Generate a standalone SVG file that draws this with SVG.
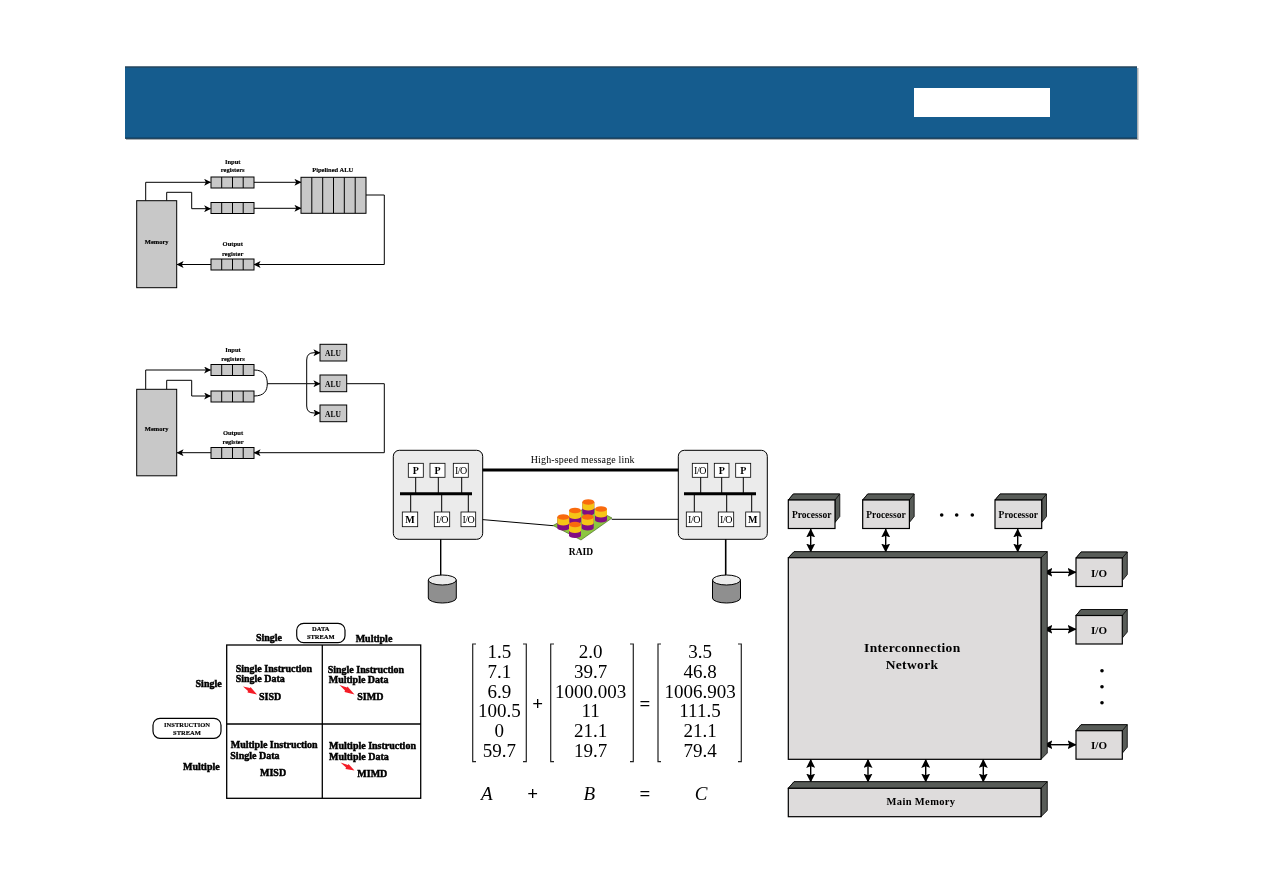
<svg xmlns="http://www.w3.org/2000/svg" xmlns:xlink="http://www.w3.org/1999/xlink" width="1263" height="893" viewBox="0 0 1263 893">
<style>
text{font-family:"Liberation Serif","Times New Roman",serif;fill:#000;text-anchor:middle}
.c{fill:none;stroke:#000;stroke-width:1}
.c2{fill:none;stroke:#000;stroke-width:1.4}
.gr{fill:#c8c8c8;stroke:#000;stroke-width:1}
.s{font-size:6.5px;font-weight:bold;stroke:#000;stroke-width:.15}
.alu{font-size:7.5px;font-weight:bold}
.wb{fill:#fff;stroke:#000;stroke-width:.8}
.pt{font-size:10px;font-weight:bold}
.io{font-size:10px;letter-spacing:-.5px}
.t{font-size:10px;font-weight:bold;stroke:#000;stroke-width:.45;text-anchor:start}
.m{font-size:19px}
.i{font-style:italic;font-size:19px}
.br{fill:none;stroke:#222;stroke-width:1.2}
.front{fill:#dedcdc;stroke:#000;stroke-width:1.2}
.dark{fill:#585c58;stroke:#000;stroke-width:.8}
.b{font-weight:bold}
.red{fill:#f41c28}
.dot{fill:#000}
.o{fill:#f96a10}.y{fill:#f5c518}.p{fill:#820a82}
</style>
<defs>
<marker id="a" viewBox="0 0 8 8" refX="7.5" refY="4" markerWidth="7" markerHeight="7" markerUnits="userSpaceOnUse" orient="auto-start-reverse"><path d="M0 0L8 4L0 8L2 4z" fill="#000"/></marker>
<marker id="d" viewBox="0 0 8 8" refX="7.5" refY="4" markerWidth="9" markerHeight="9" markerUnits="userSpaceOnUse" orient="auto-start-reverse"><path d="M0 0L8 4L0 8L1.5 4z" fill="#000"/></marker>
<g id="reg"><rect class="gr" width="43" height="11"/><path class="c" d="M10.7 0v11M21.5 0v11M32.2 0v11"/></g>
<g id="proc"><path class="dark" d="M0 6L5 0H51.5V22.5L46.7 28.5V6z"/><path class="dark" d="M0 6L5 0H51.5L46.7 6z"/><rect class="front" y="6" width="46.7" height="28.5"/></g>
<g id="iob"><path class="dark" d="M0 6L5 0H51.3V22.5L46.3 28.5V6z"/><path class="dark" d="M0 6L5 0H51.3L46.3 6z"/><rect class="front" y="6" width="46.3" height="28.5"/></g>
<g id="disk"><path d="M0 6V24A14 5 0 0 0 28 24V6z" fill="#8f8f8f" stroke="#000"/><ellipse cx="14" cy="6" rx="14" ry="5" fill="#ececec" stroke="#000"/></g>
<g id="cyl"><path d="M-6 0V11A6 2.6 0 0 0 6 11V0z" class="p"/><path d="M-6 0V6A6 2.6 0 0 0 6 6V0z" class="y"/><ellipse rx="6" ry="2.8" class="o"/></g>
<filter id="soft" x="-2%" y="-2%" width="104%" height="104%"><feGaussianBlur stdDeviation="0.42"/></filter>
</defs>
<rect width="1263" height="893" fill="#fff"/>
<g id="banner">
<rect x="126" y="68" width="1012.5" height="72" fill="#a8aeb2"/>
<rect x="125" y="66.5" width="1012" height="72" fill="#155c8e"/>
<path d="M125 67H1137" stroke="#2c3a44" stroke-width="1.2"/>
<path d="M125 138.2H1137" stroke="#0c2a40" stroke-width="1"/>
<rect x="914" y="88" width="136" height="29" fill="#fff"/>
</g>
<g filter="url(#soft)">
<g id="connectors">
<path class="c" marker-end="url(#a)" d="M145.7 200.7V182.3H210.7"/>
<path class="c" marker-end="url(#a)" d="M166.7 200.7V192.3H191.7V208.7H210.7"/>
<path class="c" marker-end="url(#a)" d="M254 182.3H301"/>
<path class="c" marker-end="url(#a)" d="M254 208.3H301"/>
<path class="c" marker-end="url(#a)" d="M366 195H384.3V264.5H254"/>
<path class="c" marker-end="url(#a)" d="M211 264.5H177"/>
<path class="c" marker-end="url(#a)" d="M145.7 389.3V370H210.7"/>
<path class="c" marker-end="url(#a)" d="M166.7 389.3V380.3H191.7V396H210.7"/>
<path class="c" d="M254 370C264 370 267.3 376 267.3 383.7C267.3 391 264 396 254 396M267.3 383.7H306.7"/>
<path class="c" marker-end="url(#a)" d="M306.7 383.7H320"/>
<path class="c" marker-end="url(#a)" d="M306.7 383.7V360Q306.7 352.7 314 352.7H320"/>
<path class="c" marker-end="url(#a)" d="M306.7 383.7V406Q306.7 413 314 413H320"/>
<path class="c" marker-end="url(#a)" d="M346.7 383.7H384.3V452.7H254"/>
<path class="c" marker-end="url(#a)" d="M211 452.7H177"/>
<path d="M468 470H692.3" stroke="#000" stroke-width="3"/>
<path class="c" d="M475.7 519L553.3 525.7M611.7 519.3H686.3"/>
<path class="c2" d="M440.7 526.7V576"/>
<path d="M725.7 526.7V576" stroke="#000" stroke-width="1.6"/>
<path class="c2" marker-start="url(#d)" marker-end="url(#d)" d="M810.7 529V552"/>
<path class="c2" marker-start="url(#d)" marker-end="url(#d)" d="M885.7 529V552"/>
<path class="c2" marker-start="url(#d)" marker-end="url(#d)" d="M1017.7 529V552"/>
<path class="c2" marker-start="url(#d)" marker-end="url(#d)" d="M1044 572.3H1076"/>
<path class="c2" marker-start="url(#d)" marker-end="url(#d)" d="M1044 629.3H1076"/>
<path class="c2" marker-start="url(#d)" marker-end="url(#d)" d="M1044 744.7H1076"/>
<path class="c2" marker-start="url(#d)" marker-end="url(#d)" d="M810.7 759.5V782"/>
<path class="c2" marker-start="url(#d)" marker-end="url(#d)" d="M868 759.5V782"/>
<path class="c2" marker-start="url(#d)" marker-end="url(#d)" d="M925.7 759.5V782"/>
<path class="c2" marker-start="url(#d)" marker-end="url(#d)" d="M983.3 759.5V782"/>
</g>

<g id="vector-memory"><rect class="gr" x="136.7" y="200.7" width="40" height="87"/><text class="s" x="156.7" y="244">Memory</text></g>
<g id="vector-input"><use href="#reg" x="211" y="177"/><use href="#reg" x="211" y="202.5"/><text class="s" x="232.7" y="163.5">Input</text><text class="s" x="232.7" y="172">registers</text></g>
<g id="vector-alu"><rect class="gr" x="301" y="177.3" width="65" height="36"/><path class="c" d="M311.8 177.3v36M322.7 177.3v36M333.5 177.3v36M344.3 177.3v36M355.2 177.3v36"/><text class="s" x="332.7" y="172">Pipelined ALU</text></g>
<g id="vector-output"><use href="#reg" x="211" y="259"/><text class="s" x="232.7" y="246">Output</text><text class="s" x="232.7" y="256">register</text></g>

<g id="array-memory"><rect class="gr" x="136.7" y="389.3" width="40" height="86.5"/><text class="s" x="156.7" y="431">Memory</text></g>
<g id="array-input"><use href="#reg" x="211" y="364.5"/><use href="#reg" x="211" y="391"/><text class="s" x="233" y="351.5">Input</text><text class="s" x="233" y="361">registers</text></g>
<g id="array-alu1"><rect class="gr" x="320" y="344.3" width="26.7" height="16.7"/><text class="alu" x="333" y="355.5">ALU</text></g>
<g id="array-alu2"><rect class="gr" x="320" y="375" width="26.7" height="16.7"/><text class="alu" x="333" y="386.5">ALU</text></g>
<g id="array-alu3"><rect class="gr" x="320" y="405" width="26.7" height="16.7"/><text class="alu" x="333" y="416.5">ALU</text></g>
<g id="array-output"><use href="#reg" x="211" y="447.5"/><text class="s" x="233" y="435">Output</text><text class="s" x="233" y="444">register</text></g>

<g id="cluster-left">
<rect x="393.3" y="450.3" width="89.4" height="89" rx="6" fill="#ebebeb" stroke="#000" stroke-width="1"/>
<path d="M400 493.7H472" stroke="#000" stroke-width="3"/>
<path class="c" d="M415.7 477V493M438.3 477V493M461.7 477V493M410.7 494V512M441.7 494V512M468.3 494V512"/>
<rect class="wb" x="408.3" y="463.3" width="15" height="14"/><text class="pt" x="415.8" y="474">P</text>
<rect class="wb" x="430" y="463.3" width="15" height="14"/><text class="pt" x="437.5" y="474">P</text>
<rect class="wb" x="453.3" y="463.3" width="15" height="14"/><text class="io" x="460.8" y="474">I/O</text>
<rect class="wb" x="402.3" y="512" width="15.4" height="14.7"/><text class="pt" x="410" y="523">M</text>
<rect class="wb" x="434.3" y="512" width="15.4" height="14.7"/><text class="io" x="442" y="523">I/O</text>
<rect class="wb" x="461" y="512" width="14.7" height="14.7"/><text class="io" x="468.3" y="523">I/O</text>
</g>
<g id="cluster-right">
<rect x="678.3" y="450.3" width="89" height="89" rx="6" fill="#ebebeb" stroke="#000" stroke-width="1"/>
<path d="M684 493.7H756" stroke="#000" stroke-width="3"/>
<path class="c" d="M700.7 477V493M721.7 477V493M743.3 477V493M694.3 494V512M726.7 494V512M751.7 494V512"/>
<rect class="wb" x="692.3" y="463.3" width="15.4" height="14"/><text class="io" x="700" y="474">I/O</text>
<rect class="wb" x="714.3" y="463.3" width="14.7" height="14"/><text class="pt" x="721.7" y="474">P</text>
<rect class="wb" x="735.7" y="463.3" width="15" height="14"/><text class="pt" x="743.2" y="474">P</text>
<rect class="wb" x="686.3" y="512" width="15.4" height="14.7"/><text class="io" x="694" y="523">I/O</text>
<rect class="wb" x="718.3" y="512" width="15.4" height="14.7"/><text class="io" x="726" y="523">I/O</text>
<rect class="wb" x="745.7" y="512" width="14.3" height="14.7"/><text class="pt" x="752.8" y="523">M</text>
</g>
<text x="582.7" y="462.5" font-size="10" letter-spacing=".15">High-speed message link</text>
<g id="disk-left"><use href="#disk" x="428.3" y="574"/></g>
<g id="disk-right"><use href="#disk" x="712.5" y="574"/></g>
<g id="raid">
<path d="M553 525.5L589 506L612 518L581 540z" fill="#8cc63f" stroke="#3a5a1a" stroke-width=".6"/>
<use href="#cyl" x="588.3" y="502"/>
<use href="#cyl" x="575" y="510.5"/>
<use href="#cyl" x="601" y="509"/>
<use href="#cyl" x="563.3" y="517"/>
<use href="#cyl" x="587.7" y="517"/>
<use href="#cyl" x="575" y="524.5"/>
<text class="b" x="581" y="554.5" font-size="9.5">RAID</text>
</g>

<g id="flynn">
<rect x="226.7" y="645" width="194" height="153.3" fill="#fff" stroke="#000" stroke-width="1.3"/>
<path d="M322.3 645V798.3M226.7 724H420.7" stroke="#000" stroke-width="1.3"/>
<rect x="296.7" y="623.3" width="48.3" height="19.4" rx="7" fill="#fff" stroke="#000" stroke-width="1.2"/>
<text class="s" x="320.8" y="631">DATA</text><text class="s" x="320.8" y="639">STREAM</text>
<rect x="153" y="718.3" width="68" height="20" rx="7" fill="#fff" stroke="#000" stroke-width="1.2"/>
<text class="s" x="187" y="726.5">INSTRUCTION</text><text class="s" x="187" y="734.5">STREAM</text>
<text class="t" style="text-anchor:middle" x="269" y="641">Single</text>
<text class="t" style="text-anchor:middle" x="374" y="642">Multiple</text>
<text class="t" style="text-anchor:end" x="221.7" y="687">Single</text>
<text class="t" style="text-anchor:end" x="219.7" y="770">Multiple</text>
<text class="t" x="235.7" y="672">Single Instruction</text><text class="t" x="235.7" y="682">Single Data</text><text class="t" x="259" y="699.5">SISD</text>
<text class="t" x="327.7" y="672.5">Single Instruction</text><text class="t" x="328.7" y="683">Multiple Data</text><text class="t" x="357.3" y="700">SIMD</text>
<text class="t" x="230.7" y="747.5">Multiple Instruction</text><text class="t" x="230.3" y="758.5">Single Data</text><text class="t" x="260" y="776">MISD</text>
<text class="t" x="329" y="749">Multiple Instruction</text><text class="t" x="329" y="760">Multiple Data</text><text class="t" x="357.3" y="777">MIMD</text>
<path class="red" d="M243 686.5L250 688L250.5 687L257 694.5L247.5 692.5L248 691zM339.5 685L347 687.5L347.5 686.5L354.5 694.5L344.5 692L345 690.5zM340.5 762.5L348 765L348.5 764L354.5 770.5L345.5 769L346 767.5z"/>
</g>

<g id="matrix">
<path class="br" d="M476 644H472.7V761.7H476M523 644H526.3V761.7H523M554 644H550.7V761.7H554M630 644H633.3V761.7H630M661 644H658V761.7H661M738 644H741.3V761.7H738"/>
<text class="m" x="499.3" y="658.3">1.5</text><text class="m" x="499.3" y="678">7.1</text><text class="m" x="499.3" y="697.5">6.9</text><text class="m" x="499.3" y="717.3">100.5</text><text class="m" x="499.3" y="737">0</text><text class="m" x="499.3" y="756.7">59.7</text>
<text class="m" x="590.7" y="658.3">2.0</text><text class="m" x="590.7" y="678">39.7</text><text class="m" x="590.7" y="697.5">1000.003</text><text class="m" x="590.7" y="717.3">11</text><text class="m" x="590.7" y="737">21.1</text><text class="m" x="590.7" y="756.7">19.7</text>
<text class="m" x="700" y="658.3">3.5</text><text class="m" x="700" y="678">46.8</text><text class="m" x="700" y="697.5">1006.903</text><text class="m" x="700" y="717.3">111.5</text><text class="m" x="700" y="737">21.1</text><text class="m" x="700" y="756.7">79.4</text>
<text class="m b" x="537.7" y="710">+</text><text class="m b" x="645" y="710">=</text>
<text class="i" x="486.7" y="800">A</text><text class="m b" x="532.7" y="800">+</text><text class="i" x="589.3" y="800">B</text><text class="m b" x="645" y="800">=</text><text class="i" x="701" y="800">C</text>
</g>

<g id="processor1"><use href="#proc" x="788.3" y="494"/><text class="b" x="811.7" y="517.5" font-size="9.5">Processor</text></g>
<g id="processor2"><use href="#proc" x="862.7" y="494"/><text class="b" x="886" y="517.5" font-size="9.5">Processor</text></g>
<g id="processor3"><use href="#proc" x="995" y="494"/><text class="b" x="1018.3" y="517.5" font-size="9.5">Processor</text></g>
<g id="dots-h" class="dot"><circle cx="941.7" cy="515" r="1.8"/><circle cx="956.7" cy="515" r="1.8"/><circle cx="972.3" cy="515" r="1.8"/></g>
<g id="network">
<path class="dark" d="M788.3 557.7L794 551.7H1047.3V753L1041 759.3V557.7z"/>
<path class="dark" d="M788.3 557.7L794 551.7H1047.3L1041 557.7z"/>
<rect class="front" x="788.3" y="557.7" width="252.7" height="201.6"/>
<text class="b" x="912.3" y="652" font-size="13.5" letter-spacing=".35">Interconnection</text>
<text class="b" x="912" y="669" font-size="13.5" letter-spacing=".35">Network</text>
</g>
<g id="memory-main">
<path class="dark" d="M788.3 788.3L794 781.7H1047.3V810.5L1041 816.7V788.3z"/>
<path class="dark" d="M788.3 788.3L794 781.7H1047.3L1041 788.3z"/>
<rect class="front" x="788.3" y="788.3" width="252.7" height="28.4"/>
<text class="b" x="921" y="805" font-size="10.5" letter-spacing=".35">Main Memory</text>
</g>
<g id="io1"><use href="#iob" x="1076" y="552"/><text class="b" x="1099" y="576.5" font-size="11">I/O</text></g>
<g id="io2"><use href="#iob" x="1076" y="609.5"/><text class="b" x="1099" y="634" font-size="11">I/O</text></g>
<g id="io3"><use href="#iob" x="1076" y="724.7"/><text class="b" x="1099" y="749" font-size="11">I/O</text></g>
<g id="dots-v" class="dot"><circle cx="1102" cy="670.7" r="1.8"/><circle cx="1102" cy="686.7" r="1.8"/><circle cx="1102" cy="702.7" r="1.8"/></g>
</g>
</svg>
